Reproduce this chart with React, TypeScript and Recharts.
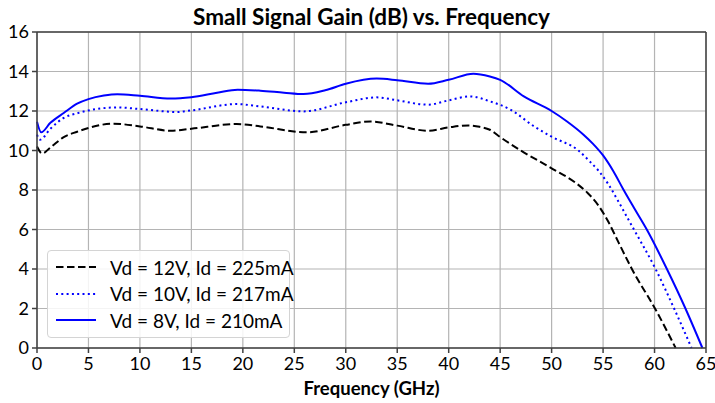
import { LineChart, Line, XAxis, YAxis, CartesianGrid, ReferenceLine } from "recharts";

// Vd = 12V, Id = 225mA
const freq12V = [0, 0.5, 1.3, 2.6, 3.9, 5, 7.4, 10, 13, 15, 19.4, 21.7, 26.2, 30, 32.4, 35, 38, 40, 41.9, 43, 44, 45, 47, 50, 52.5, 53.5, 54.5, 55.5, 56.5, 57.8, 60.1, 62.05];
const gain12V = [10.2, 9.85, 10.15, 10.68, 10.95, 11.14, 11.36, 11.22, 11.0, 11.1, 11.34, 11.22, 10.92, 11.3, 11.47, 11.26, 11.0, 11.17, 11.27, 11.2, 11.05, 10.68, 10.0, 9.1, 8.3, 7.85, 7.25, 6.4, 5.35, 4.0, 1.95, 0];

// Vd = 10V, Id = 217mA
const freq10V = [0, 0.3, 1.3, 2.6, 4, 5, 7.8, 10, 13.6, 15, 19.4, 21.7, 25.9, 30, 33, 35, 38, 40, 42.1, 44, 46, 48.3, 50, 52.6, 53.7, 54.6, 55.5, 56.4, 57.2, 58, 60.1, 61.9, 63.6];
const gain10V = [10.8, 10.55, 11.1, 11.65, 11.9, 12.03, 12.18, 12.1, 11.95, 12.03, 12.35, 12.23, 11.98, 12.44, 12.69, 12.54, 12.32, 12.54, 12.74, 12.49, 12.07, 11.22, 10.7, 10.0, 9.45, 8.95, 8.3, 7.5, 6.75, 6.0, 4.0, 2.0, 0];

// Vd = 8V, Id = 210mA
const freq8V = [0, 0.4, 1.3, 2.6, 3.9, 5, 6.5, 7.8, 10, 13, 15, 17.5, 19.5, 21.7, 24, 25.9, 28, 30, 33, 35, 38, 40, 42.4, 44, 45, 47.3, 50, 51.5, 53.1, 54, 55, 56, 57, 58, 59.3, 61.2, 62.96, 64.65];
const gain8V = [11.45, 10.92, 11.4, 11.9, 12.37, 12.6, 12.78, 12.85, 12.77, 12.63, 12.7, 12.92, 13.08, 13.03, 12.93, 12.86, 13.05, 13.38, 13.64, 13.56, 13.38, 13.58, 13.89, 13.75, 13.58, 12.74, 12.0, 11.47, 10.8, 10.35, 9.75, 8.95, 8.0, 7.1, 5.95, 4.0, 2.05, 0];

const xTicks = [0, 5, 10, 15, 20, 25, 30, 35, 40, 45, 50, 55, 60, 65];
const yTicks = [0, 2, 4, 6, 8, 10, 12, 14, 16];

const zip = (xs: number[], ys: number[]) => xs.map((f, i) => ({ f, g: ys[i] }));

const series = [
  { name: "Vd = 12V, Id = 225mA", data: zip(freq12V, gain12V), color: "#000000", dash: "7.5 3.5" },
  { name: "Vd = 10V, Id = 217mA", data: zip(freq10V, gain10V), color: "#0000ff", dash: "2 3.3" },
  { name: "Vd = 8V, Id = 210mA", data: zip(freq8V, gain8V), color: "#0000ff", dash: undefined },
];

const FONT = "Lato, 'Open Sans', sans-serif";
const AXIS = "#404040";

export default function App() {
  return (
    <div style={{ position: "absolute", left: 0, top: 0, width: 715, height: 403, background: "#fff", fontFamily: FONT }}>
      <div
        style={{
          position: "absolute", left: 37, width: 669, top: 3, textAlign: "center",
          fontSize: 22.5, fontWeight: 700, color: "#000", lineHeight: "27px",
        }}
      >
        Small Signal Gain (dB) vs. Frequency
      </div>
      <LineChart width={715} height={403} margin={{ top: 32, right: 9, bottom: 0, left: 0 }}>
        <CartesianGrid stroke="#b4b4b4" strokeWidth={1.2} />
        <XAxis
          dataKey="f"
          type="number"
          domain={[0, 65]}
          ticks={xTicks}
          allowDuplicatedCategory={false}
          height={55}
          tickSize={5}
          tickMargin={4}
          stroke={AXIS}
          strokeWidth={1.5}
          tick={{ fill: "#000", fontSize: 18, fontFamily: FONT }}
          label={{ value: "Frequency (GHz)", position: "insideBottom", offset: 8, fill: "#000", fontSize: 18.5, fontWeight: 700, fontFamily: FONT }}
        />
        <YAxis
          type="number"
          domain={[0, 16]}
          ticks={yTicks}
          width={37}
          tickSize={5}
          tickMargin={3}
          stroke={AXIS}
          strokeWidth={1.5}
          tick={{ fill: "#000", fontSize: 18, fontFamily: FONT }}
        />
        <ReferenceLine y={16} stroke={AXIS} strokeWidth={1.5} />
        <ReferenceLine x={65} stroke={AXIS} strokeWidth={1.5} />
        {series.map((s) => (
          <Line
            key={s.name}
            data={s.data}
            dataKey="g"
            name={s.name}
            type="monotone"
            stroke={s.color}
            strokeWidth={2}
            strokeDasharray={s.dash}
            dot={false}
            isAnimationActive={false}
          />
        ))}
      </LineChart>
      <div
        style={{
          position: "absolute", left: 47, top: 250, width: 243, height: 88,
          border: "1px solid #d4d4d4", borderRadius: 4, background: "rgba(255,255,255,0.85)",
          boxSizing: "border-box",
        }}
      >
        {series.map((s, i) => (
          <div key={s.name} style={{ position: "absolute", left: 0, top: 3 + i * 26.7, height: 26, display: "flex", alignItems: "center" }}>
            <svg width={60} height={26} style={{ display: "block" }}>
              <line x1={8} x2={48} y1={13} y2={13} stroke={s.color} strokeWidth={2} strokeDasharray={s.dash} />
            </svg>
            <span style={{ fontSize: 19, color: "#000", marginLeft: 2, whiteSpace: "nowrap" }}>{s.name}</span>
          </div>
        ))}
      </div>
    </div>
  );
}
